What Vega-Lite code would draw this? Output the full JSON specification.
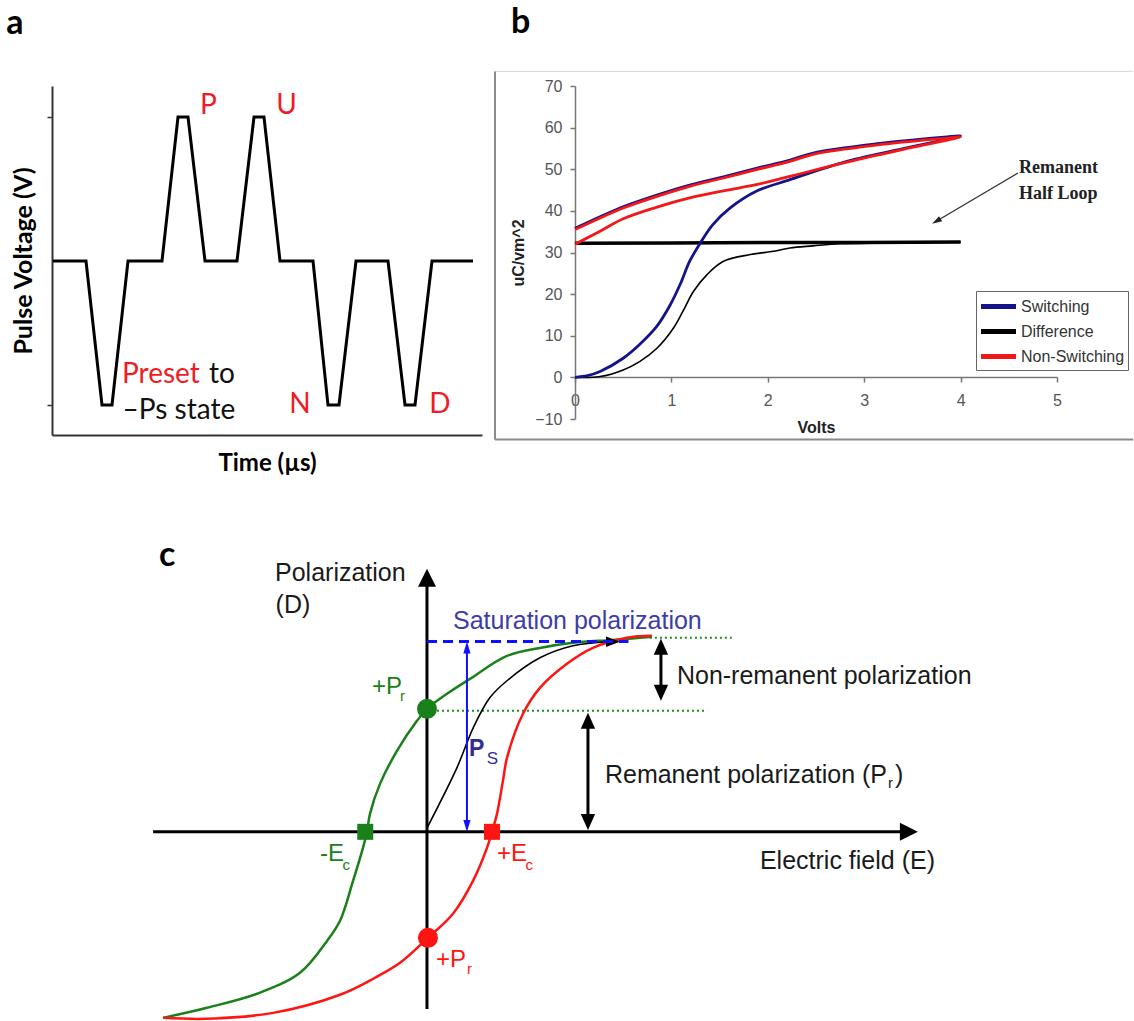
{
  "$schema": "https://vega.github.io/schema/vega-lite/v6.json",
  "padding": {"left": 6, "top": 5, "right": 0, "bottom": 0},
  "bounds": "flush",
  "columns": 2,
  "align": "none",
  "spacing": {"row": 126, "column": 93},
  "config": {"view": {"stroke": null}, "axis": {"grid": false}},
  "datasets": {
    "pulse": [
      {"t":0.1,"v":0},{"t":3.4,"v":0},{"t":5.0,"v":-1},{"t":6.0,"v":-1},{"t":7.6,"v":0},{"t":11.0,"v":0},{"t":12.6,"v":1},{"t":13.6,"v":1},{"t":15.3,"v":0},{"t":18.5,"v":0},{"t":20.2,"v":1},{"t":21.2,"v":1},{"t":22.8,"v":0},{"t":26.1,"v":0},{"t":27.6,"v":-1},{"t":28.7,"v":-1},{"t":30.4,"v":0},{"t":33.6,"v":0},{"t":35.3,"v":-1},{"t":36.3,"v":-1},{"t":38.0,"v":0},{"t":42.1,"v":0}
    ],
    "pulseNames": [
      {"t":15.65,"v":1.021,"label":"P"},{"t":23.45,"v":1.021,"label":"U"},{"t":24.8,"v":-1.056,"label":"N"},{"t":38.8,"v":-1.056,"label":"D"}
    ],
    "presetWord": [{"t":7.0,"v":-0.847,"label":"Preset"}],
    "presetRest": [{"t":15.7,"v":-0.847,"label":"to"},{"t":7.06,"v":-1.097,"label":"–Ps state"}],
    "pund": [
      {"series":"Switching","branch":"up","i":0,"volts":0,"pc":0},
      {"series":"Switching","branch":"up","i":1,"volts":0.13,"pc":0.4},
      {"series":"Switching","branch":"up","i":2,"volts":0.26,"pc":1.4},
      {"series":"Switching","branch":"up","i":3,"volts":0.5,"pc":4.6},
      {"series":"Switching","branch":"up","i":4,"volts":0.67,"pc":7.9},
      {"series":"Switching","branch":"up","i":5,"volts":0.85,"pc":12.3},
      {"series":"Switching","branch":"up","i":6,"volts":0.99,"pc":17.5},
      {"series":"Switching","branch":"up","i":7,"volts":1.09,"pc":22.3},
      {"series":"Switching","branch":"up","i":8,"volts":1.19,"pc":27.9},
      {"series":"Switching","branch":"up","i":9,"volts":1.30,"pc":32.3},
      {"series":"Switching","branch":"up","i":10,"volts":1.43,"pc":36.7},
      {"series":"Switching","branch":"up","i":11,"volts":1.61,"pc":40.7},
      {"series":"Switching","branch":"up","i":12,"volts":1.88,"pc":44.7},
      {"series":"Switching","branch":"up","i":13,"volts":2.23,"pc":47.5},
      {"series":"Switching","branch":"up","i":14,"volts":2.82,"pc":51.9},
      {"series":"Switching","branch":"up","i":15,"volts":3.51,"pc":55.5},
      {"series":"Switching","branch":"up","i":16,"volts":4.0,"pc":58.0},
      {"series":"Switching","branch":"down","i":17,"volts":3.86,"pc":57.8},
      {"series":"Switching","branch":"down","i":18,"volts":3.16,"pc":56.2},
      {"series":"Switching","branch":"down","i":19,"volts":2.47,"pc":53.9},
      {"series":"Switching","branch":"down","i":20,"volts":2.23,"pc":52.2},
      {"series":"Switching","branch":"down","i":21,"volts":1.88,"pc":50.2},
      {"series":"Switching","branch":"down","i":22,"volts":1.54,"pc":48.2},
      {"series":"Switching","branch":"down","i":23,"volts":1.19,"pc":46.2},
      {"series":"Switching","branch":"down","i":24,"volts":0.85,"pc":43.8},
      {"series":"Switching","branch":"down","i":25,"volts":0.5,"pc":41.0},
      {"series":"Switching","branch":"down","i":26,"volts":0.26,"pc":38.6},
      {"series":"Switching","branch":"down","i":27,"volts":0,"pc":35.8},
      {"series":"Non-Switching","branch":"up","i":0,"volts":0,"pc":32.0},
      {"series":"Non-Switching","branch":"up","i":1,"volts":0.26,"pc":35.1},
      {"series":"Non-Switching","branch":"up","i":2,"volts":0.5,"pc":38.1},
      {"series":"Non-Switching","branch":"up","i":3,"volts":0.85,"pc":40.9},
      {"series":"Non-Switching","branch":"up","i":4,"volts":1.19,"pc":43.1},
      {"series":"Non-Switching","branch":"up","i":5,"volts":1.54,"pc":44.8},
      {"series":"Non-Switching","branch":"up","i":6,"volts":1.88,"pc":46.3},
      {"series":"Non-Switching","branch":"up","i":7,"volts":2.23,"pc":48.3},
      {"series":"Non-Switching","branch":"up","i":8,"volts":2.82,"pc":51.7},
      {"series":"Non-Switching","branch":"up","i":9,"volts":3.51,"pc":55.3},
      {"series":"Non-Switching","branch":"up","i":10,"volts":4.0,"pc":57.8},
      {"series":"Non-Switching","branch":"down","i":11,"volts":3.86,"pc":57.5},
      {"series":"Non-Switching","branch":"down","i":12,"volts":3.16,"pc":55.9},
      {"series":"Non-Switching","branch":"down","i":13,"volts":2.47,"pc":53.6},
      {"series":"Non-Switching","branch":"down","i":14,"volts":2.23,"pc":51.9},
      {"series":"Non-Switching","branch":"down","i":15,"volts":1.88,"pc":49.9},
      {"series":"Non-Switching","branch":"down","i":16,"volts":1.54,"pc":47.9},
      {"series":"Non-Switching","branch":"down","i":17,"volts":1.19,"pc":45.9},
      {"series":"Non-Switching","branch":"down","i":18,"volts":0.85,"pc":43.5},
      {"series":"Non-Switching","branch":"down","i":19,"volts":0.5,"pc":40.7},
      {"series":"Non-Switching","branch":"down","i":20,"volts":0.26,"pc":38.3},
      {"series":"Non-Switching","branch":"down","i":21,"volts":0,"pc":35.5},
      {"series":"Difference","branch":"up","i":0,"volts":0,"pc":0},
      {"series":"Difference","branch":"up","i":1,"volts":0.26,"pc":0.2},
      {"series":"Difference","branch":"up","i":2,"volts":0.5,"pc":1.8},
      {"series":"Difference","branch":"up","i":3,"volts":0.67,"pc":3.8},
      {"series":"Difference","branch":"up","i":4,"volts":0.85,"pc":7.0},
      {"series":"Difference","branch":"up","i":5,"volts":1.02,"pc":11.8},
      {"series":"Difference","branch":"up","i":6,"volts":1.12,"pc":15.9},
      {"series":"Difference","branch":"up","i":7,"volts":1.23,"pc":20.7},
      {"series":"Difference","branch":"up","i":8,"volts":1.37,"pc":24.7},
      {"series":"Difference","branch":"up","i":9,"volts":1.54,"pc":27.9},
      {"series":"Difference","branch":"up","i":10,"volts":1.82,"pc":29.5},
      {"series":"Difference","branch":"up","i":11,"volts":2.06,"pc":30.3},
      {"series":"Difference","branch":"up","i":12,"volts":2.23,"pc":31.1},
      {"series":"Difference","branch":"up","i":13,"volts":2.47,"pc":31.6},
      {"series":"Difference","branch":"up","i":14,"volts":2.75,"pc":32.1},
      {"series":"Difference","branch":"up","i":15,"volts":3.2,"pc":32.3},
      {"series":"Difference","branch":"up","i":16,"volts":4.0,"pc":32.5},
      {"series":"Difference","branch":"down","i":17,"volts":4.0,"pc":32.5},
      {"series":"Difference","branch":"down","i":18,"volts":3.0,"pc":32.4},
      {"series":"Difference","branch":"down","i":19,"volts":2.0,"pc":32.4},
      {"series":"Difference","branch":"down","i":20,"volts":1.0,"pc":32.3},
      {"series":"Difference","branch":"down","i":21,"volts":0,"pc":32.2}
    ],
    "frameB": [
      {"edge":"top","volts":-0.83,"pc":73.5,"volts2":5.79,"pc2":73.5},
      {"edge":"left","volts":-0.83,"pc":-14.9,"volts2":-0.83,"pc2":73.5},
      {"edge":"bottom","volts":-0.83,"pc":-14.9,"volts2":5.79,"pc2":-14.9}
    ],
    "notesB": [{"volts":4.606,"pc":49.1,"label":"Remanent"},{"volts":4.606,"pc":42.9,"label":"Half Loop"}],
    "pointerB": [{"volts":4.595,"pc":49.1,"volts2":3.748,"pc2":37.5}],
    "pointerHeadB": [{"volts":3.748,"pc":37.5}],
    "hysteresis": [
      {"branch":"upper","i":0,"E":-4.062,"P":-0.974},
      {"branch":"upper","i":1,"E":-3.385,"P":-0.921},
      {"branch":"upper","i":2,"E":-2.615,"P":-0.848},
      {"branch":"upper","i":3,"E":-1.954,"P":-0.738},
      {"branch":"upper","i":4,"E":-1.538,"P":-0.571},
      {"branch":"upper","i":5,"E":-1.338,"P":-0.466},
      {"branch":"upper","i":6,"E":-1.138,"P":-0.257},
      {"branch":"upper","i":7,"E":-0.985,"P":-0.084},
      {"branch":"upper","i":8,"E":-0.923,"P":0},
      {"branch":"upper","i":9,"E":-0.877,"P":0.094},
      {"branch":"upper","i":10,"E":-0.723,"P":0.251},
      {"branch":"upper","i":11,"E":-0.462,"P":0.424},
      {"branch":"upper","i":12,"E":-0.154,"P":0.581},
      {"branch":"upper","i":13,"E":0,"P":0.644},
      {"branch":"upper","i":14,"E":0.308,"P":0.723},
      {"branch":"upper","i":15,"E":0.662,"P":0.801},
      {"branch":"upper","i":16,"E":1.231,"P":0.921},
      {"branch":"upper","i":17,"E":1.738,"P":0.963},
      {"branch":"upper","i":18,"E":2.246,"P":0.990},
      {"branch":"upper","i":19,"E":2.862,"P":1.005},
      {"branch":"upper","i":20,"E":3.462,"P":1.021},
      {"branch":"lower","i":0,"E":-4.062,"P":-0.974},
      {"branch":"lower","i":1,"E":-3.385,"P":-0.979},
      {"branch":"lower","i":2,"E":-2.369,"P":-0.948},
      {"branch":"lower","i":3,"E":-1.338,"P":-0.853},
      {"branch":"lower","i":4,"E":-0.8,"P":-0.764},
      {"branch":"lower","i":5,"E":-0.415,"P":-0.686},
      {"branch":"lower","i":6,"E":0.015,"P":-0.555},
      {"branch":"lower","i":7,"E":0.4,"P":-0.429},
      {"branch":"lower","i":8,"E":0.708,"P":-0.257},
      {"branch":"lower","i":9,"E":0.923,"P":-0.084},
      {"branch":"lower","i":10,"E":1.0,"P":0},
      {"branch":"lower","i":11,"E":1.077,"P":0.094},
      {"branch":"lower","i":12,"E":1.169,"P":0.267},
      {"branch":"lower","i":13,"E":1.231,"P":0.387},
      {"branch":"lower","i":14,"E":1.477,"P":0.618},
      {"branch":"lower","i":15,"E":1.738,"P":0.754},
      {"branch":"lower","i":16,"E":2.154,"P":0.880},
      {"branch":"lower","i":17,"E":2.554,"P":0.963},
      {"branch":"lower","i":18,"E":3.077,"P":1.016},
      {"branch":"lower","i":19,"E":3.462,"P":1.026},
      {"branch":"initial","i":0,"E":0,"P":0.02},
      {"branch":"initial","i":1,"E":0.46,"P":0.335},
      {"branch":"initial","i":2,"E":0.713,"P":0.546},
      {"branch":"initial","i":3,"E":0.969,"P":0.703},
      {"branch":"initial","i":4,"E":1.231,"P":0.791},
      {"branch":"initial","i":5,"E":1.738,"P":0.911},
      {"branch":"initial","i":6,"E":2.246,"P":0.974},
      {"branch":"initial","i":7,"E":2.8,"P":0.995}
    ],
    "axesC": [{"E":-4.215,"P":0,"E2":7.3,"P2":0},{"E":0,"P":-0.927,"E2":0,"P2":1.3}],
    "axisHeadsC": [{"E":0,"P":1.33,"dir":"up"},{"E":7.415,"P":0,"dir":"right"}],
    "levelsC": [{"E":3.43,"P":1.016,"E2":4.69,"P2":1.016},{"E":0.154,"P":0.634,"E2":4.31,"P2":0.634}],
    "saturationC": [{"E":0,"P":0.996,"E2":3.1,"P2":0.996}],
    "psArrowC": [{"E":0.615,"P":0.03,"E2":0.615,"P2":0.97}],
    "psHeadsC": [{"E":0.615,"P":0.965,"dir":"up"},{"E":0.615,"P":0.031,"dir":"down"}],
    "measureC": [{"E":3.6,"P":0.73,"E2":3.6,"P2":0.97},{"E":2.477,"P":0.055,"E2":2.477,"P2":0.58}],
    "measureHeadsC": [{"E":3.6,"P":0.969,"dir":"up"},{"E":3.6,"P":0.728,"dir":"down"},{"E":2.477,"P":0.581,"dir":"up"},{"E":2.477,"P":0.052,"dir":"down"}],
    "initialHeadC": [{"E":2.862,"P":0.995}],
    "markersC": [
      {"branch":"upper","kind":"circle","E":0,"P":0.644},
      {"branch":"upper","kind":"square","E":-0.95,"P":0},
      {"branch":"lower","kind":"square","E":1.0,"P":0},
      {"branch":"lower","kind":"circle","E":0.015,"P":-0.555}
    ],
    "textBlackC": [
      {"E":-2.338,"P":1.314,"label":"Polarization"},
      {"E":-2.33,"P":1.147,"label":"(D)"},
      {"E":3.846,"P":0.775,"label":"Non-remanent polarization"},
      {"E":2.738,"P":0.257,"label":"Remanent polarization (P"},
      {"E":7.2,"P":0.257,"label":")"},
      {"E":5.123,"P":-0.194,"label":"Electric field (E)"}
    ],
    "subBlackC": [{"E":7.095,"P":0.23,"label":"r"}],
    "textBlueC": [{"E":0.4,"P":1.063,"label":"Saturation polarization"}],
    "psMainC": [{"E":0.646,"P":0.398,"label":"P"}],
    "psSubC": [{"E":0.92,"P":0.356,"label":"S"}],
    "textGreenC": [{"E":-0.846,"P":0.723,"label":"+P"},{"E":-1.646,"P":-0.152,"label":"-E"}],
    "subGreenC": [{"E":-0.415,"P":0.686,"label":"r"},{"E":-1.3,"P":-0.199,"label":"c"}],
    "textRedC": [{"E":1.077,"P":-0.152,"label":"+E"},{"E":0.138,"P":-0.707,"label":"+P"}],
    "subRedC": [{"E":1.515,"P":-0.199,"label":"c"},{"E":0.615,"P":-0.743,"label":"r"}]
  },
  "concat": [
    {
      "width": 430,
      "height": 349,
      "layer": [
        {
          "data": {"name": "pulse"},
          "mark": {"type": "line", "color": "#000000", "strokeWidth": 3, "strokeJoin": "miter"},
          "encoding": {
            "x": {"field": "t", "type": "quantitative", "scale": {"domain": [0, 43], "nice": false, "zero": false},
              "axis": {"title": "Time (µs)", "titleFont": "Lato", "titleFontSize": 24, "titleFontWeight": "bold", "titleColor": "#000000", "titlePadding": 16, "ticks": false, "labels": false, "domainColor": "#333333", "domainWidth": 2}},
            "y": {"field": "v", "type": "quantitative", "scale": {"domain": [-1.208, 1.215], "nice": false, "zero": false},
              "axis": {"title": "Pulse Voltage (V)", "titleFont": "Lato", "titleFontSize": 25, "titleFontWeight": "bold", "titleColor": "#000000", "titlePadding": 10, "values": [-1, 1], "labels": false, "tickSize": 5, "tickColor": "#333333", "tickWidth": 1.5, "domainColor": "#333333", "domainWidth": 2}}
          }
        },
        {
          "data": {"name": "pulseNames"},
          "mark": {"type": "text", "font": "Lato", "fontSize": 28, "align": "center", "baseline": "alphabetic", "color": "#ee1c25"},
          "encoding": {
            "x": {"field": "t", "type": "quantitative", "scale": {"domain": [0, 43], "nice": false, "zero": false}},
            "y": {"field": "v", "type": "quantitative", "scale": {"domain": [-1.208, 1.215], "nice": false, "zero": false}},
            "text": {"field": "label"}
          }
        },
        {
          "data": {"name": "presetWord"},
          "mark": {"type": "text", "font": "Lato", "fontSize": 28, "align": "left", "baseline": "alphabetic", "color": "#ee1c25"},
          "encoding": {
            "x": {"field": "t", "type": "quantitative", "scale": {"domain": [0, 43], "nice": false, "zero": false}},
            "y": {"field": "v", "type": "quantitative", "scale": {"domain": [-1.208, 1.215], "nice": false, "zero": false}},
            "text": {"field": "label"}
          }
        },
        {
          "data": {"name": "presetRest"},
          "mark": {"type": "text", "font": "Lato", "fontSize": 28, "align": "left", "baseline": "alphabetic", "color": "#111111"},
          "encoding": {
            "x": {"field": "t", "type": "quantitative", "scale": {"domain": [0, 43], "nice": false, "zero": false}},
            "y": {"field": "v", "type": "quantitative", "scale": {"domain": [-1.208, 1.215], "nice": false, "zero": false}},
            "text": {"field": "label"}
          }
        },
        {
          "data": {"values": [{"t": -4.57, "v": 1.576, "label": "a"}]},
          "mark": {"type": "text", "font": "Lato", "fontSize": 34, "fontWeight": "bold", "align": "left", "baseline": "alphabetic", "color": "#000000"},
          "encoding": {
            "x": {"field": "t", "type": "quantitative", "scale": {"domain": [0, 43], "nice": false, "zero": false}},
            "y": {"field": "v", "type": "quantitative", "scale": {"domain": [-1.208, 1.215], "nice": false, "zero": false}},
            "text": {"field": "label"}
          }
        }
      ]
    },
    {
      "width": 482,
      "height": 333,
      "layer": [
        {
          "data": {"name": "frameB"},
          "transform": [{"filter": "datum.edge === 'top'"}],
          "mark": {"type": "rule", "color": "#d9d9d9", "strokeWidth": 1},
          "encoding": {
            "x": {"field": "volts", "type": "quantitative", "scale": {"domain": [0, 5], "nice": false, "zero": false},
              "axis": {"title": "Volts", "titleFont": "Liberation Sans", "titleFontSize": 16, "titleFontWeight": "bold", "titleColor": "#222222", "titlePadding": 11, "values": [0, 1, 2, 3, 4, 5], "format": "d", "labelFlush": false, "labelFont": "Liberation Sans", "labelFontSize": 16, "labelColor": "#555555", "labelPadding": 10, "tickSize": 5, "tickColor": "#777777", "tickWidth": 1.5, "domainColor": "#777777", "domainWidth": 1.5, "offset": -42}},
            "y": {"field": "pc", "type": "quantitative", "scale": {"domain": [-10, 70], "nice": false, "zero": false},
              "axis": {"title": "uC/vm^2", "titleFont": "Liberation Sans", "titleFontSize": 16, "titleFontWeight": "bold", "titleColor": "#222222", "titlePadding": 8, "values": [-10, 0, 10, 20, 30, 40, 50, 60, 70], "labelFont": "Liberation Sans", "labelFontSize": 16, "labelColor": "#555555", "labelPadding": 8, "tickSize": 5, "tickColor": "#777777", "tickWidth": 1.5, "domainColor": "#777777", "domainWidth": 1.5}},
            "x2": {"field": "volts2"},
            "y2": {"field": "pc2"}
          }
        },
        {
          "data": {"name": "frameB"},
          "transform": [{"filter": "datum.edge !== 'top'"}],
          "mark": {"type": "rule", "color": "#8a8a8a", "strokeWidth": 2},
          "encoding": {
            "x": {"field": "volts", "type": "quantitative", "scale": {"domain": [0, 5], "nice": false, "zero": false}},
            "y": {"field": "pc", "type": "quantitative", "scale": {"domain": [-10, 70], "nice": false, "zero": false}},
            "x2": {"field": "volts2"},
            "y2": {"field": "pc2"}
          }
        },
        {
          "data": {"name": "pund"},
          "transform": [{"filter": "datum.series === 'Difference' && datum.branch === 'up'"}],
          "mark": {"type": "line", "strokeWidth": 1.6, "interpolate": "catmull-rom"},
          "encoding": {
            "x": {"field": "volts", "type": "quantitative", "scale": {"domain": [0, 5], "nice": false, "zero": false}},
            "y": {"field": "pc", "type": "quantitative", "scale": {"domain": [-10, 70], "nice": false, "zero": false}},
            "order": {"field": "i", "type": "quantitative"},
            "color": {"field": "series", "type": "nominal", "scale": {"domain": ["Switching", "Difference", "Non-Switching"], "range": ["#14148a", "#000000", "#f01818"]},
              "legend": {"title": null, "orient": "none", "legendX": 924, "legendY": 205, "direction": "vertical", "strokeColor": "#666666", "fillColor": "#ffffff", "padding": 3, "symbolType": "M-1.75,0L1.75,0", "symbolSize": 400, "symbolStrokeWidth": 5, "symbolOffset": 7, "labelOffset": 10, "labelFont": "Liberation Sans", "labelFontSize": 16, "labelColor": "#333333", "rowPadding": 2}}
          }
        },
        {
          "data": {"name": "pund"},
          "transform": [{"filter": "datum.series === 'Difference' && datum.branch === 'down'"}],
          "mark": {"type": "line", "strokeWidth": 3.5},
          "encoding": {
            "x": {"field": "volts", "type": "quantitative", "scale": {"domain": [0, 5], "nice": false, "zero": false}},
            "y": {"field": "pc", "type": "quantitative", "scale": {"domain": [-10, 70], "nice": false, "zero": false}},
            "order": {"field": "i", "type": "quantitative"},
            "color": {"field": "series", "type": "nominal", "scale": {"domain": ["Switching", "Difference", "Non-Switching"], "range": ["#14148a", "#000000", "#f01818"]}, "legend": null}
          }
        },
        {
          "data": {"name": "pund"},
          "transform": [{"filter": "datum.series === 'Switching'"}],
          "mark": {"type": "line", "strokeWidth": 2.8, "interpolate": "catmull-rom"},
          "encoding": {
            "x": {"field": "volts", "type": "quantitative", "scale": {"domain": [0, 5], "nice": false, "zero": false}},
            "y": {"field": "pc", "type": "quantitative", "scale": {"domain": [-10, 70], "nice": false, "zero": false}},
            "order": {"field": "i", "type": "quantitative"},
            "color": {"field": "series", "type": "nominal", "scale": {"domain": ["Switching", "Difference", "Non-Switching"], "range": ["#14148a", "#000000", "#f01818"]}, "legend": null}
          }
        },
        {
          "data": {"name": "pund"},
          "transform": [{"filter": "datum.series === 'Non-Switching'"}],
          "mark": {"type": "line", "strokeWidth": 2.8, "interpolate": "catmull-rom"},
          "encoding": {
            "x": {"field": "volts", "type": "quantitative", "scale": {"domain": [0, 5], "nice": false, "zero": false}},
            "y": {"field": "pc", "type": "quantitative", "scale": {"domain": [-10, 70], "nice": false, "zero": false}},
            "order": {"field": "i", "type": "quantitative"},
            "color": {"field": "series", "type": "nominal", "scale": {"domain": ["Switching", "Difference", "Non-Switching"], "range": ["#14148a", "#000000", "#f01818"]}, "legend": null}
          }
        },
        {
          "data": {"name": "notesB"},
          "mark": {"type": "text", "font": "Liberation Serif", "fontSize": 18, "fontWeight": "bold", "align": "left", "baseline": "alphabetic", "color": "#222222"},
          "encoding": {
            "x": {"field": "volts", "type": "quantitative", "scale": {"domain": [0, 5], "nice": false, "zero": false}},
            "y": {"field": "pc", "type": "quantitative", "scale": {"domain": [-10, 70], "nice": false, "zero": false}},
            "text": {"field": "label"}
          }
        },
        {
          "data": {"name": "pointerB"},
          "mark": {"type": "rule", "color": "#333333", "strokeWidth": 1.3},
          "encoding": {
            "x": {"field": "volts", "type": "quantitative", "scale": {"domain": [0, 5], "nice": false, "zero": false}},
            "y": {"field": "pc", "type": "quantitative", "scale": {"domain": [-10, 70], "nice": false, "zero": false}},
            "x2": {"field": "volts2"},
            "y2": {"field": "pc2"}
          }
        },
        {
          "data": {"name": "pointerHeadB"},
          "mark": {"type": "point", "shape": "M0,-1L-0.6,1L0.6,1Z", "filled": true, "color": "#222222", "opacity": 1, "size": 100, "angle": 239, "strokeWidth": 0},
          "encoding": {
            "x": {"field": "volts", "type": "quantitative", "scale": {"domain": [0, 5], "nice": false, "zero": false}},
            "y": {"field": "pc", "type": "quantitative", "scale": {"domain": [-10, 70], "nice": false, "zero": false}}
          }
        },
        {
          "data": {"values": [{"volts": -0.664, "pc": 82.74, "label": "b"}]},
          "mark": {"type": "text", "font": "Lato", "fontSize": 34, "fontWeight": "bold", "align": "left", "baseline": "alphabetic", "color": "#000000"},
          "encoding": {
            "x": {"field": "volts", "type": "quantitative", "scale": {"domain": [0, 5], "nice": false, "zero": false}},
            "y": {"field": "pc", "type": "quantitative", "scale": {"domain": [-10, 70], "nice": false, "zero": false}},
            "text": {"field": "label"}
          }
        }
      ]
    },
    {
      "width": 430,
      "height": 458,
      "layer": [
        {
          "data": {"name": "axesC"},
          "mark": {"type": "rule", "color": "#000000", "strokeWidth": 3},
          "encoding": {
            "x": {"field": "E", "type": "quantitative", "scale": {"domain": [-5.77, 7.54], "range": [0, 865], "nice": false, "zero": false}, "axis": null},
            "y": {"field": "P", "type": "quantitative", "scale": {"domain": [-0.98, 1.418], "nice": false, "zero": false}, "axis": null},
            "x2": {"field": "E2"},
            "y2": {"field": "P2"}
          }
        },
        {
          "data": {"name": "axisHeadsC"},
          "transform": [{"filter": "datum.dir === 'up'"}],
          "mark": {"type": "point", "shape": "M0,-1L-1,1L1,1Z", "filled": true, "color": "#000000", "opacity": 1, "size": 324, "strokeWidth": 0},
          "encoding": {
            "x": {"field": "E", "type": "quantitative", "scale": {"domain": [-5.77, 7.54], "range": [0, 865], "nice": false, "zero": false}, "axis": null},
            "y": {"field": "P", "type": "quantitative", "scale": {"domain": [-0.98, 1.418], "nice": false, "zero": false}, "axis": null}
          }
        },
        {
          "data": {"name": "axisHeadsC"},
          "transform": [{"filter": "datum.dir === 'right'"}],
          "mark": {"type": "point", "shape": "M1,0L-1,-1L-1,1Z", "filled": true, "color": "#000000", "opacity": 1, "size": 324, "strokeWidth": 0},
          "encoding": {
            "x": {"field": "E", "type": "quantitative", "scale": {"domain": [-5.77, 7.54], "range": [0, 865], "nice": false, "zero": false}, "axis": null},
            "y": {"field": "P", "type": "quantitative", "scale": {"domain": [-0.98, 1.418], "nice": false, "zero": false}, "axis": null}
          }
        },
        {
          "data": {"name": "levelsC"},
          "mark": {"type": "rule", "color": "#1f8f1f", "strokeWidth": 2, "strokeDash": [2, 3]},
          "encoding": {
            "x": {"field": "E", "type": "quantitative", "scale": {"domain": [-5.77, 7.54], "range": [0, 865], "nice": false, "zero": false}, "axis": null},
            "y": {"field": "P", "type": "quantitative", "scale": {"domain": [-0.98, 1.418], "nice": false, "zero": false}, "axis": null},
            "x2": {"field": "E2"},
            "y2": {"field": "P2"}
          }
        },
        {
          "data": {"name": "hysteresis"},
          "transform": [{"filter": "datum.branch === 'upper'"}],
          "mark": {"type": "line", "color": "#1a801a", "strokeWidth": 2.5, "interpolate": "catmull-rom"},
          "encoding": {
            "x": {"field": "E", "type": "quantitative", "scale": {"domain": [-5.77, 7.54], "range": [0, 865], "nice": false, "zero": false}, "axis": null},
            "y": {"field": "P", "type": "quantitative", "scale": {"domain": [-0.98, 1.418], "nice": false, "zero": false}, "axis": null},
            "order": {"field": "i", "type": "quantitative"}
          }
        },
        {
          "data": {"name": "hysteresis"},
          "transform": [{"filter": "datum.branch === 'lower'"}],
          "mark": {"type": "line", "color": "#ff1414", "strokeWidth": 2.5, "interpolate": "catmull-rom"},
          "encoding": {
            "x": {"field": "E", "type": "quantitative", "scale": {"domain": [-5.77, 7.54], "range": [0, 865], "nice": false, "zero": false}, "axis": null},
            "y": {"field": "P", "type": "quantitative", "scale": {"domain": [-0.98, 1.418], "nice": false, "zero": false}, "axis": null},
            "order": {"field": "i", "type": "quantitative"}
          }
        },
        {
          "data": {"name": "hysteresis"},
          "transform": [{"filter": "datum.branch === 'initial'"}],
          "mark": {"type": "line", "color": "#000000", "strokeWidth": 1.6, "interpolate": "catmull-rom"},
          "encoding": {
            "x": {"field": "E", "type": "quantitative", "scale": {"domain": [-5.77, 7.54], "range": [0, 865], "nice": false, "zero": false}, "axis": null},
            "y": {"field": "P", "type": "quantitative", "scale": {"domain": [-0.98, 1.418], "nice": false, "zero": false}, "axis": null},
            "order": {"field": "i", "type": "quantitative"}
          }
        },
        {
          "data": {"name": "initialHeadC"},
          "mark": {"type": "point", "shape": "M1,0L-1,-0.75L-1,0.75Z", "filled": true, "color": "#000000", "opacity": 1, "size": 196, "strokeWidth": 0},
          "encoding": {
            "x": {"field": "E", "type": "quantitative", "scale": {"domain": [-5.77, 7.54], "range": [0, 865], "nice": false, "zero": false}, "axis": null},
            "y": {"field": "P", "type": "quantitative", "scale": {"domain": [-0.98, 1.418], "nice": false, "zero": false}, "axis": null}
          }
        },
        {
          "data": {"name": "saturationC"},
          "mark": {"type": "rule", "color": "#1010ff", "strokeWidth": 3, "strokeDash": [10, 6]},
          "encoding": {
            "x": {"field": "E", "type": "quantitative", "scale": {"domain": [-5.77, 7.54], "range": [0, 865], "nice": false, "zero": false}, "axis": null},
            "y": {"field": "P", "type": "quantitative", "scale": {"domain": [-0.98, 1.418], "nice": false, "zero": false}, "axis": null},
            "x2": {"field": "E2"},
            "y2": {"field": "P2"}
          }
        },
        {
          "data": {"name": "psArrowC"},
          "mark": {"type": "rule", "color": "#1010ff", "strokeWidth": 2},
          "encoding": {
            "x": {"field": "E", "type": "quantitative", "scale": {"domain": [-5.77, 7.54], "range": [0, 865], "nice": false, "zero": false}, "axis": null},
            "y": {"field": "P", "type": "quantitative", "scale": {"domain": [-0.98, 1.418], "nice": false, "zero": false}, "axis": null},
            "x2": {"field": "E2"},
            "y2": {"field": "P2"}
          }
        },
        {
          "data": {"name": "psHeadsC"},
          "transform": [{"filter": "datum.dir === 'up'"}],
          "mark": {"type": "point", "shape": "M0,-1L-0.6,1L0.6,1Z", "filled": true, "color": "#1010ff", "opacity": 1, "size": 144, "strokeWidth": 0},
          "encoding": {
            "x": {"field": "E", "type": "quantitative", "scale": {"domain": [-5.77, 7.54], "range": [0, 865], "nice": false, "zero": false}, "axis": null},
            "y": {"field": "P", "type": "quantitative", "scale": {"domain": [-0.98, 1.418], "nice": false, "zero": false}, "axis": null}
          }
        },
        {
          "data": {"name": "psHeadsC"},
          "transform": [{"filter": "datum.dir === 'down'"}],
          "mark": {"type": "point", "shape": "M0,1L-0.6,-1L0.6,-1Z", "filled": true, "color": "#1010ff", "opacity": 1, "size": 144, "strokeWidth": 0},
          "encoding": {
            "x": {"field": "E", "type": "quantitative", "scale": {"domain": [-5.77, 7.54], "range": [0, 865], "nice": false, "zero": false}, "axis": null},
            "y": {"field": "P", "type": "quantitative", "scale": {"domain": [-0.98, 1.418], "nice": false, "zero": false}, "axis": null}
          }
        },
        {
          "data": {"name": "measureC"},
          "mark": {"type": "rule", "color": "#000000", "strokeWidth": 3},
          "encoding": {
            "x": {"field": "E", "type": "quantitative", "scale": {"domain": [-5.77, 7.54], "range": [0, 865], "nice": false, "zero": false}, "axis": null},
            "y": {"field": "P", "type": "quantitative", "scale": {"domain": [-0.98, 1.418], "nice": false, "zero": false}, "axis": null},
            "x2": {"field": "E2"},
            "y2": {"field": "P2"}
          }
        },
        {
          "data": {"name": "measureHeadsC"},
          "transform": [{"filter": "datum.dir === 'up'"}],
          "mark": {"type": "point", "shape": "M0,-1L-0.9,1L0.9,1Z", "filled": true, "color": "#000000", "opacity": 1, "size": 256, "strokeWidth": 0},
          "encoding": {
            "x": {"field": "E", "type": "quantitative", "scale": {"domain": [-5.77, 7.54], "range": [0, 865], "nice": false, "zero": false}, "axis": null},
            "y": {"field": "P", "type": "quantitative", "scale": {"domain": [-0.98, 1.418], "nice": false, "zero": false}, "axis": null}
          }
        },
        {
          "data": {"name": "measureHeadsC"},
          "transform": [{"filter": "datum.dir === 'down'"}],
          "mark": {"type": "point", "shape": "M0,1L-0.9,-1L0.9,-1Z", "filled": true, "color": "#000000", "opacity": 1, "size": 256, "strokeWidth": 0},
          "encoding": {
            "x": {"field": "E", "type": "quantitative", "scale": {"domain": [-5.77, 7.54], "range": [0, 865], "nice": false, "zero": false}, "axis": null},
            "y": {"field": "P", "type": "quantitative", "scale": {"domain": [-0.98, 1.418], "nice": false, "zero": false}, "axis": null}
          }
        },
        {
          "data": {"name": "markersC"},
          "transform": [{"filter": "datum.branch === 'upper' && datum.kind === 'circle'"}],
          "mark": {"type": "point", "shape": "circle", "filled": true, "color": "#1a801a", "opacity": 1, "size": 400, "strokeWidth": 0},
          "encoding": {
            "x": {"field": "E", "type": "quantitative", "scale": {"domain": [-5.77, 7.54], "range": [0, 865], "nice": false, "zero": false}, "axis": null},
            "y": {"field": "P", "type": "quantitative", "scale": {"domain": [-0.98, 1.418], "nice": false, "zero": false}, "axis": null}
          }
        },
        {
          "data": {"name": "markersC"},
          "transform": [{"filter": "datum.branch === 'upper' && datum.kind === 'square'"}],
          "mark": {"type": "point", "shape": "square", "filled": true, "color": "#1a801a", "opacity": 1, "size": 256, "strokeWidth": 0},
          "encoding": {
            "x": {"field": "E", "type": "quantitative", "scale": {"domain": [-5.77, 7.54], "range": [0, 865], "nice": false, "zero": false}, "axis": null},
            "y": {"field": "P", "type": "quantitative", "scale": {"domain": [-0.98, 1.418], "nice": false, "zero": false}, "axis": null}
          }
        },
        {
          "data": {"name": "markersC"},
          "transform": [{"filter": "datum.branch === 'lower' && datum.kind === 'circle'"}],
          "mark": {"type": "point", "shape": "circle", "filled": true, "color": "#ff1414", "opacity": 1, "size": 400, "strokeWidth": 0},
          "encoding": {
            "x": {"field": "E", "type": "quantitative", "scale": {"domain": [-5.77, 7.54], "range": [0, 865], "nice": false, "zero": false}, "axis": null},
            "y": {"field": "P", "type": "quantitative", "scale": {"domain": [-0.98, 1.418], "nice": false, "zero": false}, "axis": null}
          }
        },
        {
          "data": {"name": "markersC"},
          "transform": [{"filter": "datum.branch === 'lower' && datum.kind === 'square'"}],
          "mark": {"type": "point", "shape": "square", "filled": true, "color": "#ff1414", "opacity": 1, "size": 256, "strokeWidth": 0},
          "encoding": {
            "x": {"field": "E", "type": "quantitative", "scale": {"domain": [-5.77, 7.54], "range": [0, 865], "nice": false, "zero": false}, "axis": null},
            "y": {"field": "P", "type": "quantitative", "scale": {"domain": [-0.98, 1.418], "nice": false, "zero": false}, "axis": null}
          }
        },
        {
          "data": {"name": "textBlackC"},
          "mark": {"type": "text", "font": "Liberation Sans", "fontSize": 25, "align": "left", "baseline": "alphabetic", "color": "#1a1a1a"},
          "encoding": {
            "x": {"field": "E", "type": "quantitative", "scale": {"domain": [-5.77, 7.54], "range": [0, 865], "nice": false, "zero": false}, "axis": null},
            "y": {"field": "P", "type": "quantitative", "scale": {"domain": [-0.98, 1.418], "nice": false, "zero": false}, "axis": null},
            "text": {"field": "label"}
          }
        },
        {
          "data": {"name": "subBlackC"},
          "mark": {"type": "text", "font": "Liberation Sans", "fontSize": 15, "align": "left", "baseline": "alphabetic", "color": "#1a1a1a"},
          "encoding": {
            "x": {"field": "E", "type": "quantitative", "scale": {"domain": [-5.77, 7.54], "range": [0, 865], "nice": false, "zero": false}, "axis": null},
            "y": {"field": "P", "type": "quantitative", "scale": {"domain": [-0.98, 1.418], "nice": false, "zero": false}, "axis": null},
            "text": {"field": "label"}
          }
        },
        {
          "data": {"name": "textBlueC"},
          "mark": {"type": "text", "font": "Liberation Sans", "fontSize": 25, "align": "left", "baseline": "alphabetic", "color": "#3c3caa"},
          "encoding": {
            "x": {"field": "E", "type": "quantitative", "scale": {"domain": [-5.77, 7.54], "range": [0, 865], "nice": false, "zero": false}, "axis": null},
            "y": {"field": "P", "type": "quantitative", "scale": {"domain": [-0.98, 1.418], "nice": false, "zero": false}, "axis": null},
            "text": {"field": "label"}
          }
        },
        {
          "data": {"name": "psMainC"},
          "mark": {"type": "text", "font": "Liberation Sans", "fontSize": 23, "fontWeight": "bold", "align": "left", "baseline": "alphabetic", "color": "#2f2f96"},
          "encoding": {
            "x": {"field": "E", "type": "quantitative", "scale": {"domain": [-5.77, 7.54], "range": [0, 865], "nice": false, "zero": false}, "axis": null},
            "y": {"field": "P", "type": "quantitative", "scale": {"domain": [-0.98, 1.418], "nice": false, "zero": false}, "axis": null},
            "text": {"field": "label"}
          }
        },
        {
          "data": {"name": "psSubC"},
          "mark": {"type": "text", "font": "Liberation Sans", "fontSize": 17, "align": "left", "baseline": "alphabetic", "color": "#2f2f96"},
          "encoding": {
            "x": {"field": "E", "type": "quantitative", "scale": {"domain": [-5.77, 7.54], "range": [0, 865], "nice": false, "zero": false}, "axis": null},
            "y": {"field": "P", "type": "quantitative", "scale": {"domain": [-0.98, 1.418], "nice": false, "zero": false}, "axis": null},
            "text": {"field": "label"}
          }
        },
        {
          "data": {"name": "textGreenC"},
          "mark": {"type": "text", "font": "Liberation Sans", "fontSize": 24, "align": "left", "baseline": "alphabetic", "color": "#1a801a"},
          "encoding": {
            "x": {"field": "E", "type": "quantitative", "scale": {"domain": [-5.77, 7.54], "range": [0, 865], "nice": false, "zero": false}, "axis": null},
            "y": {"field": "P", "type": "quantitative", "scale": {"domain": [-0.98, 1.418], "nice": false, "zero": false}, "axis": null},
            "text": {"field": "label"}
          }
        },
        {
          "data": {"name": "subGreenC"},
          "mark": {"type": "text", "font": "Liberation Sans", "fontSize": 15, "align": "left", "baseline": "alphabetic", "color": "#1a801a"},
          "encoding": {
            "x": {"field": "E", "type": "quantitative", "scale": {"domain": [-5.77, 7.54], "range": [0, 865], "nice": false, "zero": false}, "axis": null},
            "y": {"field": "P", "type": "quantitative", "scale": {"domain": [-0.98, 1.418], "nice": false, "zero": false}, "axis": null},
            "text": {"field": "label"}
          }
        },
        {
          "data": {"name": "textRedC"},
          "mark": {"type": "text", "font": "Liberation Sans", "fontSize": 24, "align": "left", "baseline": "alphabetic", "color": "#ff1414"},
          "encoding": {
            "x": {"field": "E", "type": "quantitative", "scale": {"domain": [-5.77, 7.54], "range": [0, 865], "nice": false, "zero": false}, "axis": null},
            "y": {"field": "P", "type": "quantitative", "scale": {"domain": [-0.98, 1.418], "nice": false, "zero": false}, "axis": null},
            "text": {"field": "label"}
          }
        },
        {
          "data": {"name": "subRedC"},
          "mark": {"type": "text", "font": "Liberation Sans", "fontSize": 15, "align": "left", "baseline": "alphabetic", "color": "#ff1414"},
          "encoding": {
            "x": {"field": "E", "type": "quantitative", "scale": {"domain": [-5.77, 7.54], "range": [0, 865], "nice": false, "zero": false}, "axis": null},
            "y": {"field": "P", "type": "quantitative", "scale": {"domain": [-0.98, 1.418], "nice": false, "zero": false}, "axis": null},
            "text": {"field": "label"}
          }
        },
        {
          "data": {"values": [{"E": -4.123, "P": 1.393, "label": "c"}]},
          "mark": {"type": "text", "font": "Lato", "fontSize": 34, "fontWeight": "bold", "align": "left", "baseline": "alphabetic", "color": "#000000"},
          "encoding": {
            "x": {"field": "E", "type": "quantitative", "scale": {"domain": [-5.77, 7.54], "range": [0, 865], "nice": false, "zero": false}, "axis": null},
            "y": {"field": "P", "type": "quantitative", "scale": {"domain": [-0.98, 1.418], "nice": false, "zero": false}, "axis": null},
            "text": {"field": "label"}
          }
        }
      ]
    }
  ]
}
